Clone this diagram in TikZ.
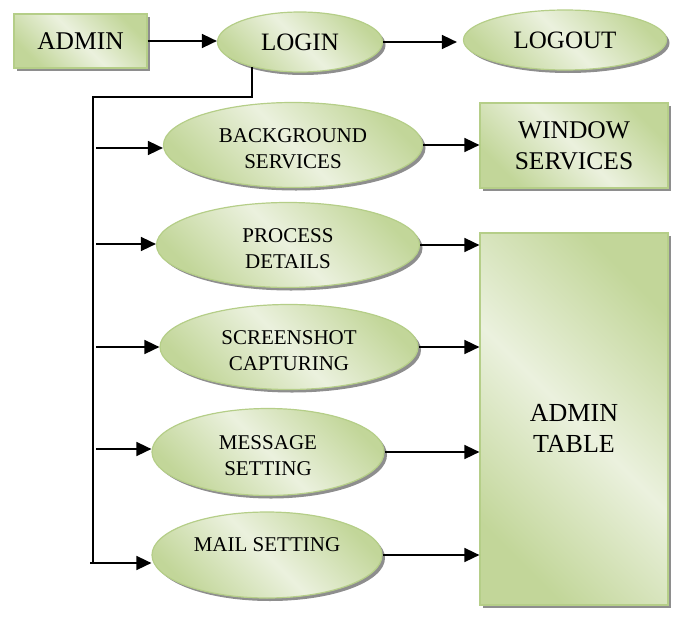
\documentclass[tikz,border=0pt]{standalone}
\usepackage{fontspec}
\setmainfont{Liberation Serif}
\usetikzlibrary{shapes.geometric,arrows.meta,shadows}
\definecolor{gdark}{HTML}{C2D699}
\definecolor{glight}{HTML}{EBF1DE}
\definecolor{gborder}{HTML}{B5CE88}
\definecolor{gshadow}{HTML}{8E8E8E}
\tikzset{
  shade3/.style={left color=gdark, right color=gdark, middle color=glight, shading angle=135},
  shad/.style={drop shadow={shadow xshift=3pt, shadow yshift=-3pt, fill=gshadow, opacity=1}},
  boxnode/.style={rectangle, draw=gborder, line width=1.2pt, shade3, shad, inner sep=0pt, align=center, font=\fontsize{25.5}{31.5}\selectfont},
  ellbig/.style={ellipse, draw=gborder, line width=1.2pt, shade3, shad, inner sep=0pt, align=center, font=\fontsize{25}{30}\selectfont},
  ellsmall/.style={ellipse, draw=gborder, line width=1.2pt, shade3, shad, inner sep=0pt, align=center, font=\fontsize{21}{25.5}\selectfont},
  conn/.style={line width=1.6pt, draw=black},
  arr/.style={conn, -{Triangle[length=15pt,width=14pt]}},
}
\begin{document}
\begin{tikzpicture}[x=1pt,y=-1pt]
\useasboundingbox (0,0) rectangle (680,616);
\node[boxnode, minimum width=133pt, minimum height=54pt] (admin) at (80.5,41) {ADMIN};
\node[ellbig, minimum width=165pt, minimum height=60pt] (login) at (300,42) {LOGIN};
\node[ellbig, minimum width=203pt, minimum height=60pt] (logout) at (565,40) {LOGOUT};
\node[ellsmall, minimum width=259pt, minimum height=85pt] (bg) at (293,145) {\mbox{}\\[-4.5pt]BACKGROUND\\SERVICES};
\node[ellsmall, minimum width=263pt, minimum height=85pt] (proc) at (288,245) {\mbox{}\\[-4.5pt]PROCESS\\DETAILS};
\node[ellsmall, minimum width=258pt, minimum height=85pt] (scr) at (289,347) {\mbox{}\\[-4.5pt]SCREENSHOT\\CAPTURING};
\node[ellsmall, minimum width=232pt, minimum height=87pt] (msg) at (268,452) {\mbox{}\\[-4.5pt]MESSAGE\\SETTING};
\node[ellsmall, minimum width=230pt, minimum height=86pt] (mail) at (267,555) {MAIL SETTING\\[-4pt]\mbox{}};
\node[boxnode, minimum width=188pt, minimum height=85pt] (win) at (574,145.5) {WINDOW\\SERVICES};
\node[boxnode, minimum width=188pt, minimum height=372pt, font=\fontsize{26}{31}\selectfont] (table) at (574,419) {\mbox{}\\[6pt]ADMIN\\TABLE};

\draw[arr] (admin.east) -- (admin.east -| login.west);
\draw[arr, shorten >=6pt] (login.east) -- (login.east -| logout.west);

\coordinate (j0) at (252,67);
\coordinate (j1) at (252,97);
\coordinate (j2) at (93,97);
\coordinate (j3) at (93,563);
\draw[conn] (j0) -- (j1) -- (j2) -- (j3);

\coordinate (b1) at (96,148);
\coordinate (b2) at (96,244);
\coordinate (b3) at (96,347);
\coordinate (b4) at (96,449);
\coordinate (b5) at (90,563);
\draw[arr] (b1) -- (b1 -| bg.west);
\draw[arr] (b2) -- (b2 -| proc.west);
\draw[arr] (b3) -- (b3 -| scr.west);
\draw[arr] (b4) -- (b4 -| msg.west);
\draw[arr] (b5) -- (b5 -| mail.west);

\draw[arr] (bg.east) -- (bg.east -| win.west);
\draw[arr] (proc.east) -- (proc.east -| table.west);
\draw[arr] (scr.east) -- (scr.east -| table.west);
\draw[arr] (msg.east) -- (msg.east -| table.west);
\draw[arr] (mail.east) -- (mail.east -| table.west);
\end{tikzpicture}
\end{document}
